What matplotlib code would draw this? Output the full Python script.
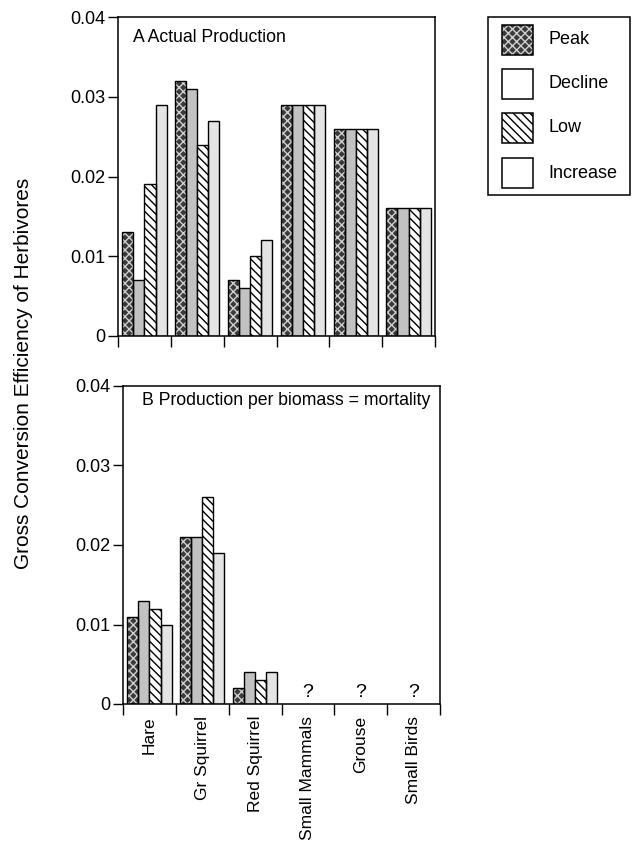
import matplotlib
matplotlib.use("Agg")
import matplotlib.pyplot as plt
import numpy as np
from matplotlib.patches import Rectangle

categories = ["Hare", "Gr Squirrel", "Red Squirrel", "Small Mammals", "Grouse", "Small Birds"]
phases = ["Peak", "Decline", "Low", "Increase"]

# Panel A: actual production
a_peak = [0.013, 0.032, 0.007, 0.029, 0.026, 0.016]
a_decline = [0.007, 0.031, 0.006, 0.029, 0.026, 0.016]
a_low = [0.019, 0.024, 0.010, 0.029, 0.026, 0.016]
a_increase = [0.029, 0.027, 0.012, 0.029, 0.026, 0.016]

# Panel B: production per biomass = mortality (only first three known)
b_peak = [0.011, 0.021, 0.002]
b_decline = [0.013, 0.021, 0.004]
b_low = [0.012, 0.026, 0.003]
b_increase = [0.010, 0.019, 0.004]
b_unknown = ["Small Mammals", "Grouse", "Small Birds"]

yticks = [0, 0.01, 0.02, 0.03, 0.04]
yticklabels = ["0", "0.01", "0.02", "0.03", "0.04"]

plt.rcParams['font.family'] = ['Liberation Sans', 'DejaVu Sans']

fig = plt.figure(figsize=(6.32, 8.44), dpi=100)
W, H = 632, 844
def ax_rect(x0, y0, x1, y1):
    return [x0 / W, 1 - y1 / H, (x1 - x0) / W, (y1 - y0) / H]

axA = fig.add_axes(ax_rect(118, 17, 435, 336))
axB = fig.add_axes(ax_rect(123, 386, 440, 704))

styles = {
    "Peak": dict(face="#3a3a3a", hatch="xxxx", hcol="#d0d0d0"),
    "Decline": dict(face="#c2c2c2", hatch=None, hcol=None),
    "Low": dict(face="white", hatch="\\\\\\\\", hcol="black"),
    "Increase": dict(face="#e4e4e4", hatch=None, hcol=None),
}

bw = 0.21

def draw_bars(ax, series):
    n = len(series[0])
    x = np.arange(n) + 0.5
    for i, (name, vals) in enumerate(zip(phases, series)):
        st = styles[name]
        xs = x + (i - 1.5) * bw
        if st["hatch"]:
            ax.bar(xs, vals, width=bw, color=st["face"], hatch=st["hatch"],
                   edgecolor=st["hcol"], linewidth=0, zorder=2)
            ax.bar(xs, vals, width=bw, fill=False, edgecolor="black",
                   linewidth=1.0, zorder=3)
        else:
            ax.bar(xs, vals, width=bw, color=st["face"], edgecolor="black",
                   linewidth=1.0, zorder=2)

draw_bars(axA, [a_peak, a_decline, a_low, a_increase])
draw_bars(axB, [b_peak, b_decline, b_low, b_increase])

for ax in (axA, axB):
    ax.set_xlim(0, len(categories))
    ax.set_ylim(0, 0.04)
    ax.set_yticks(yticks)
    ax.set_yticklabels(yticklabels, fontsize=13)
    ax.set_xticks(np.arange(len(categories) + 1))
    ax.set_xticklabels([])
    ax.tick_params(axis='y', direction='out', length=7, width=1, pad=2)
    ax.tick_params(axis='x', direction='out', length=8, width=1)
    for s in ax.spines.values():
        s.set_linewidth(1.1)

# category labels on bottom panel
for i, c in enumerate(categories):
    axB.text(i + 0.5, -0.0015, c, rotation=90, ha='center', va='top',
             fontsize=12.5)

for c in b_unknown:
    i = categories.index(c)
    axB.text(i + 0.5, 0.0004, "?", ha='center', va='bottom', fontsize=14)

axA.text(0.048, 0.935, "A Actual Production", transform=axA.transAxes,
         fontsize=12.7, ha='left', va='center')
axB.text(0.06, 0.955, "B Production per biomass = mortality", transform=axB.transAxes,
         fontsize=12.7, ha='left', va='center')

fig.text(24 / W, 1 - 373 / H, "Gross Conversion Efficiency of Herbivores",
         rotation=90, ha='center', va='center', fontsize=15)

# legend, drawn manually in figure pixel space
def fx(px):
    return px / W
def fy(py):
    return 1 - py / H

fig.patches.append(Rectangle((fx(488), fy(195)), fx(630) - fx(488), fy(17) - fy(195),
                             transform=fig.transFigure, facecolor='white',
                             edgecolor='black', linewidth=1.1, zorder=1))
leg_face = ["#3a3a3a", "white", "white", "white"]
leg_hatch = ["xxxx", None, "\\\\\\\\", None]
leg_hcol = ["#d0d0d0", None, "black", None]
row_tops = [25, 69, 113, 158]
for name, face, hatch, hcol, top in zip(phases, leg_face, leg_hatch, leg_hcol, row_tops):
    x0, y0, wpx, hpx = 502, top, 31, 30
    if hatch:
        fig.patches.append(Rectangle((fx(x0), fy(y0 + hpx)), fx(wpx), hpx / H,
                                     transform=fig.transFigure, facecolor=face,
                                     edgecolor=hcol, hatch=hatch, linewidth=0, zorder=2))
    fig.patches.append(Rectangle((fx(x0), fy(y0 + hpx)), fx(wpx), hpx / H,
                                 transform=fig.transFigure,
                                 facecolor=face if not hatch else 'none',
                                 edgecolor='black', linewidth=1.1, zorder=3))
    fig.text(fx(548), fy(y0 + hpx / 2), name, ha='left', va='center', fontsize=13)

fig.savefig("out.png", dpi=100)
